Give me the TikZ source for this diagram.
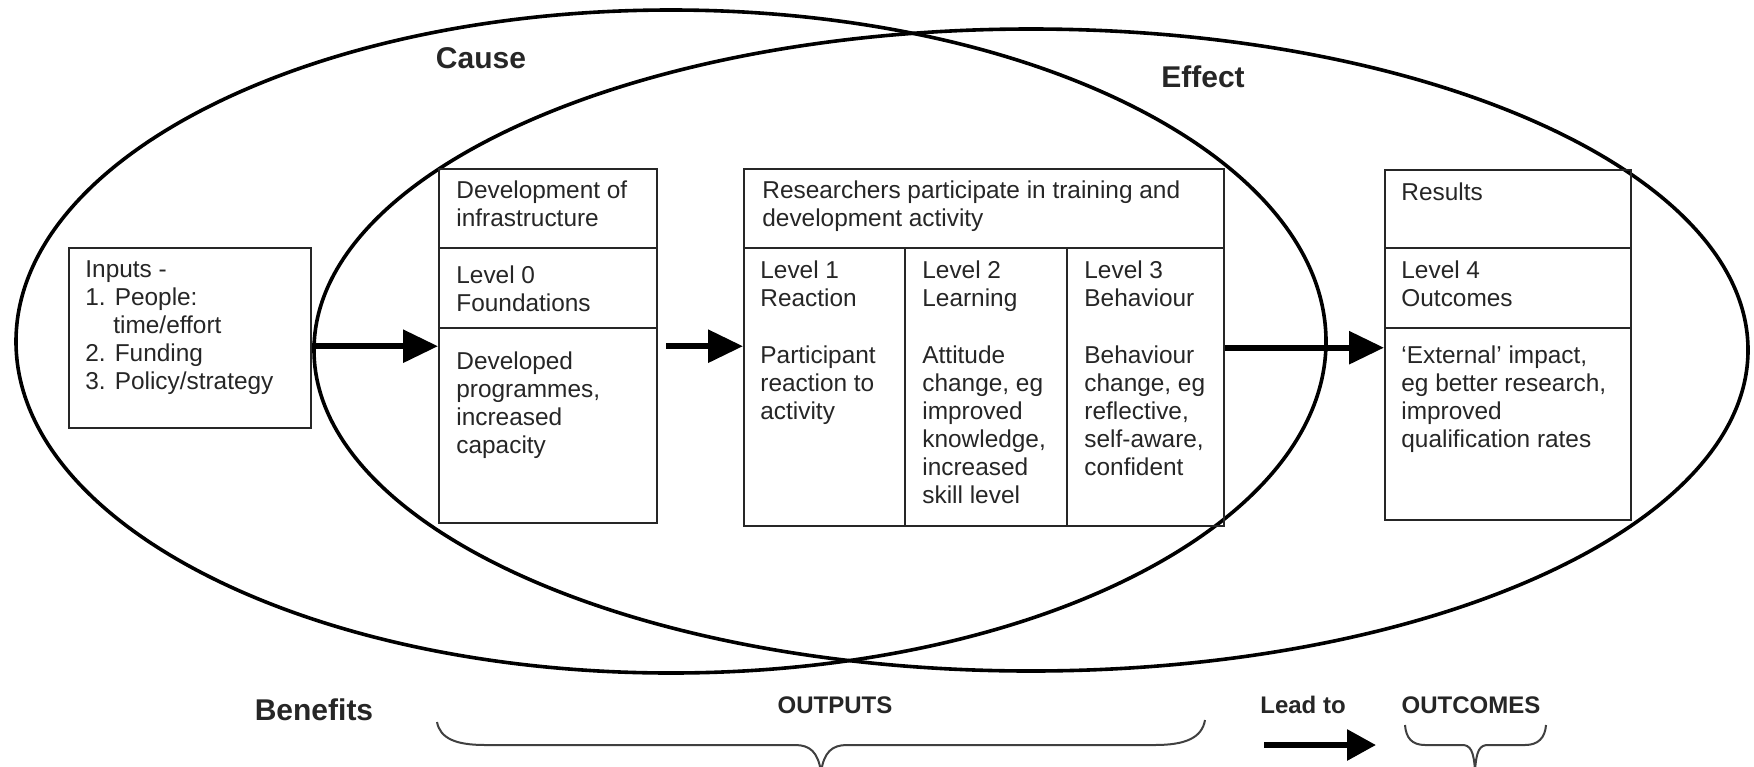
\documentclass[tikz,border=0pt]{standalone}
\usepackage{fontspec}
\setmainfont{Liberation Sans}
\usetikzlibrary{arrows.meta,shapes.geometric}
\newcommand{\mytl}[1]{\parbox[t]{300pt}{\raggedright #1}}
\begin{document}
\begin{tikzpicture}[x=0.5pt,y=-0.5pt,
  ell/.style={ellipse, draw=black, line width=1.8pt, inner sep=0pt},
  box/.style={draw=black!85, line width=1.2pt, anchor=north west, inner sep=0pt},
  div/.style={draw=black!85, line width=1.2pt},
  txt/.style={anchor=base west, inner sep=0pt, text=black!85, font=\fontsize{12.2}{14}\selectfont},
  big/.style={font=\bfseries\fontsize{15}{18}\selectfont, text=black!85, inner sep=0pt},
  mid/.style={font=\bfseries\fontsize{12}{14}\selectfont, text=black!85, inner sep=0pt},
  arr/.style={line width=3pt, -{Triangle[length=17.5pt,width=16pt]}},
  arrs/.style={line width=3pt, -{Triangle[length=14.5pt,width=15pt]}},
  brc/.style={draw=black!75, line width=1pt}
]
\useasboundingbox (0,0) rectangle (1754,766);
\fill[white] (0,0) rectangle (1754,766);

% ellipses
\node[ell, minimum width=655pt, minimum height=331.5pt] (cause) at (671,341.5) {};
\node[ell, minimum width=717pt, minimum height=321pt] (effect) at (1031,350) {};

% labels
\node[big] (causeL) at (481,58) {Cause};
\node[big] (effectL) at (1203,77) {Effect};

% inputs box
\node[box, minimum width=121pt, minimum height=90pt] (inputs) at (68,247) {};
\node[txt] (inputsT) at (85,277) {\mytl{Inputs -\\1. People:\\\hspace*{14pt}time/effort\\2. Funding\\3. Policy/strategy}};

% development box
\node[box, minimum width=109pt, minimum height=177pt] (dev) at (438,168) {};
\draw[div] ([yshift=-40pt]dev.north west) -- ([yshift=-40pt]dev.north east);
\draw[div] ([yshift=-80pt]dev.north west) -- ([yshift=-80pt]dev.north east);
\node[txt] (devA) at (456,198) {\mytl{Development of\\infrastructure}};
\node[txt] (devB) at (456,283) {\mytl{Level 0\\Foundations}};
\node[txt] (devC) at (456,369) {\mytl{Developed\\programmes,\\increased\\capacity}};

% researchers box
\node[box, minimum width=240pt, minimum height=178.5pt] (res) at (743,168) {};
\draw[div] ([yshift=-40pt]res.north west) -- ([yshift=-40pt]res.north east);
\draw[div] ([xshift=81pt,yshift=-40pt]res.north west) -- ([xshift=81pt]res.south west);
\draw[div] ([xshift=162pt,yshift=-40pt]res.north west) -- ([xshift=162pt]res.south west);
\node[txt] (resA) at (762,198) {\mytl{Researchers participate in training and\\development activity}};
\node[txt] (l1A) at (760,278) {\mytl{Level 1\\Reaction}};
\node[txt] (l1B) at (760,363) {\mytl{Participant\\reaction to\\activity}};
\node[txt] (l2A) at (922,278) {\mytl{Level 2\\Learning}};
\node[txt] (l2B) at (922,363) {\mytl{Attitude\\change, eg\\improved\\knowledge,\\increased\\skill level}};
\node[txt] (l3A) at (1084,278) {\mytl{Level 3\\Behaviour}};
\node[txt] (l3B) at (1084,363) {\mytl{Behaviour\\change, eg\\reflective,\\self-aware,\\confident}};

% results box
\node[box, minimum width=123pt, minimum height=175pt] (out) at (1384,169) {};
\draw[div] ([yshift=-39.5pt]out.north west) -- ([yshift=-39.5pt]out.north east);
\draw[div] ([yshift=-79.5pt]out.north west) -- ([yshift=-79.5pt]out.north east);
\node[txt] (oA) at (1401,200) {\mytl{Results}};
\node[txt] (oB) at (1401,278) {\mytl{Level 4\\Outcomes}};
\node[txt] (oC) at (1401,363) {\mytl{`External' impact,\\eg better research,\\improved\\qualification rates}};

% arrows
\draw[arr] ([yshift=-4pt]inputs.east) -- (dev.west);
\draw[arr] ([xshift=4pt]dev.east) -- (dev.east -| res.west);
\draw[arr] (res.east) -- (res.east -| out.west);

% bottom row
\node[big] (benefits) at (314,710) {Benefits};
\node[mid] (outputs) at (835,705) {OUTPUTS};
\node[mid] (leadto) at (1303,705) {Lead to};
\node[mid] (outcomes) at (1471,705) {OUTCOMES};
\coordinate (leadA) at (1264,745);
\coordinate (leadB) at (1376,745);
\draw[arrs] (leadA) -- (leadB);

% braces
\draw[brc] (437,722) .. controls (440,738) and (455,745) .. (485,745) -- (795,745) .. controls (810,745) and (818,752) .. (821,772);
\draw[brc] (1205,720) .. controls (1202,738) and (1185,745) .. (1155,745) -- (847,745) .. controls (832,745) and (824,752) .. (821,772);
\draw[brc] (1405,725) .. controls (1406,738) and (1412,745) .. (1425,745) -- (1462,745) .. controls (1470,745) and (1474,750) .. (1475,772);
\draw[brc] (1546,725) .. controls (1545,738) and (1538,745) .. (1525,745) -- (1488,745) .. controls (1480,745) and (1476,750) .. (1475,772);
\end{tikzpicture}
\end{document}
